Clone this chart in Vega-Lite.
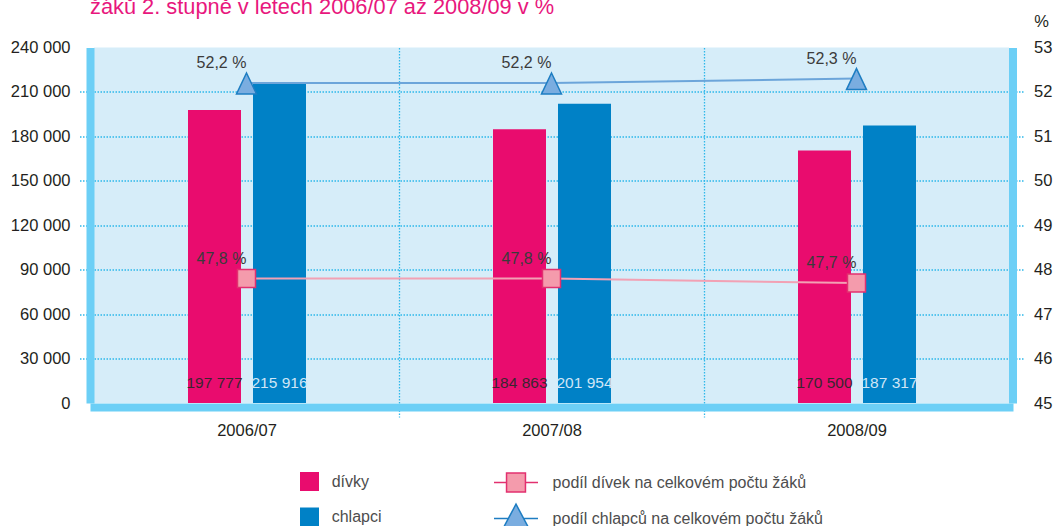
{
  "$schema": "https://vega.github.io/schema/vega-lite/v6.json",
  "width": 915,
  "height": 355.5,
  "autosize": {"type": "none"},
  "padding": {"left": 94, "top": 47.5, "right": 45, "bottom": 123},
  "background": "white",
  "title": {
    "text": "žáků 2. stupně v letech 2006/07 až 2008/09 v %",
    "anchor": "start",
    "frame": "group",
    "offset": 0,
    "dx": -4,
    "dy": 23,
    "font": "Liberation Sans",
    "fontSize": 21.8,
    "fontWeight": "normal",
    "color": "#E8177D",
    "baseline": "alphabetic"
  },
  "datasets": {
    "pocty": [
      {"rok": "2006/07", "pohlavi": "dívky", "pocet": 197777},
      {"rok": "2006/07", "pohlavi": "chlapci", "pocet": 215916},
      {"rok": "2007/08", "pohlavi": "dívky", "pocet": 184863},
      {"rok": "2007/08", "pohlavi": "chlapci", "pocet": 201954},
      {"rok": "2008/09", "pohlavi": "dívky", "pocet": 170500},
      {"rok": "2008/09", "pohlavi": "chlapci", "pocet": 187317}
    ],
    "podily": [
      {"rok": "2006/07", "serie": "podíl dívek na celkovém počtu žáků", "podil": 47.8},
      {"rok": "2007/08", "serie": "podíl dívek na celkovém počtu žáků", "podil": 47.8},
      {"rok": "2008/09", "serie": "podíl dívek na celkovém počtu žáků", "podil": 47.7},
      {"rok": "2006/07", "serie": "podíl chlapců na celkovém počtu žáků", "podil": 52.2},
      {"rok": "2007/08", "serie": "podíl chlapců na celkovém počtu žáků", "podil": 52.2},
      {"rok": "2008/09", "serie": "podíl chlapců na celkovém počtu žáků", "podil": 52.3}
    ]
  },
  "layer": [
    {
      "data": {"name": "pocty"},
      "layer": [
        {
          "mark": {"type": "bar"},
          "encoding": {
            "x": {
              "field": "rok", "type": "nominal",
              "scale": {"paddingInner": 0, "paddingOuter": 0},
              "axis": {
                "title": null,
                "labelAngle": 0,
                "offset": 4,
                "domainColor": "#6CCFF6",
                "domainWidth": 8,
                "domainCap": "square",
                "tickBand": "extent",
                "ticks": true,
                "tickSize": 10,
                "tickColor": "#2DB8EA",
                "tickDash": [1.5, 1.5],
                "tickWidth": 1.3,
                "tickOpacity": {"condition": {"test": "datum.value === '2008/09' || datum.extra", "value": 0}, "value": 1},
                "grid": true,
                "gridColor": "#2DB8EA",
                "gridDash": [1.5, 1.5],
                "gridWidth": 1.3,
                "gridOpacity": {"condition": {"test": "datum.value === '2008/09' || datum.extra", "value": 0}, "value": 1},
                "labelPadding": 5,
                "labelFontSize": 16.5,
                "labelColor": "#231F20",
                "labelFont": "Liberation Sans"
              }
            },
            "xOffset": {
              "field": "pohlavi", "type": "nominal",
              "scale": {"domain": ["dívky", "chlapci"], "range": [94, 212], "paddingInner": 0.1846, "paddingOuter": 0}
            },
            "y": {
              "field": "pocet", "type": "quantitative",
              "scale": {"domain": [0, 240000], "nice": false, "zero": true},
              "axis": {
                "title": null,
                "values": [0, 30000, 60000, 90000, 120000, 150000, 180000, 210000, 240000],
                "format": ",d",
                "offset": 4,
                "domainColor": "#6CCFF6",
                "domainWidth": 8,
                "tickSize": 11,
                "tickColor": "#2DB8EA",
                "tickDash": [1.5, 1.5],
                "tickWidth": 1.3,
                "tickOpacity": {"condition": {"test": "datum.value >= 240000 || datum.value <= 0", "value": 0}, "value": 1},
                "grid": true,
                "gridColor": "#2DB8EA",
                "gridDash": [1.5, 1.5],
                "gridWidth": 1.3,
                "gridOpacity": {"condition": {"test": "datum.value >= 240000 || datum.value <= 0", "value": 0}, "value": 1},
                "labelPadding": 9,
                "labelFontSize": 16.5,
                "labelColor": "#231F20",
                "labelFont": "Liberation Sans"
              }
            },
            "color": {
              "field": "pohlavi", "type": "nominal",
              "scale": {"domain": ["dívky", "chlapci"], "range": ["#E90C6E", "#0081C6"]},
              "legend": {
                "orient": "none",
                "legendX": 206,
                "legendY": 424.5,
                "title": null,
                "padding": 0,
                "symbolType": "square",
                "symbolSize": 361,
                "symbolStrokeWidth": 0,
                "symbolOpacity": 1,
                "labelOffset": 12.7,
                "rowPadding": 16.5,
                "labelFontSize": 16,
                "labelColor": "#4D4D4D",
                "labelFont": "Liberation Sans"
              }
            }
          }
        },
        {
          "mark": {"type": "text", "baseline": "middle", "align": "center", "dy": -20, "fontSize": 15.5, "font": "Liberation Sans"},
          "encoding": {
            "x": {"field": "rok", "type": "nominal"},
            "xOffset": {"field": "pohlavi", "type": "nominal"},
            "y": {"datum": 0, "type": "quantitative"},
            "text": {"field": "pocet", "type": "quantitative", "format": ",d"},
            "color": {"condition": {"test": "datum.pohlavi === 'dívky'", "value": "#3A2530"}, "value": "#D0E6F6"}
          }
        }
      ]
    },
    {
      "data": {"name": "podily"},
      "transform": [
        {"calculate": "replace(format(datum.podil, '.1f'), '.', ',') + ' %'", "as": "popisek"}
      ],
      "encoding": {
        "x": {"field": "rok", "type": "nominal"},
        "y": {
          "field": "podil", "type": "quantitative",
          "scale": {"domain": [45, 53], "nice": false, "zero": false},
          "axis": {
            "orient": "right",
            "title": "%",
            "titleAngle": 0,
            "titleAlign": "center",
            "titleBaseline": "middle",
            "titleX": 28.5,
            "titleY": -26.5,
            "titleFontSize": 16.5,
            "titleFontWeight": "normal",
            "titleColor": "#231F20",
            "titleFont": "Liberation Sans",
            "values": [45, 46, 47, 48, 49, 50, 51, 52, 53],
            "format": "d",
            "offset": 3.5,
            "domainColor": "#6CCFF6",
            "domainWidth": 8,
            "tickSize": 11,
            "tickColor": "#2DB8EA",
            "tickDash": [1.5, 1.5],
            "tickWidth": 1.3,
            "tickOpacity": {"condition": {"test": "datum.value >= 53 || datum.value <= 45", "value": 0}, "value": 1},
            "grid": false,
            "labelPadding": 10,
            "labelFontSize": 16.5,
            "labelColor": "#231F20",
            "labelFont": "Liberation Sans"
          }
        }
      },
      "layer": [
        {
          "mark": {"type": "line", "strokeWidth": 2},
          "encoding": {
            "detail": {"field": "serie", "type": "nominal"},
            "stroke": {"condition": {"test": "datum.serie === 'podíl dívek na celkovém počtu žáků'", "value": "#F2A1B4"}, "value": "#6CA5DA"}
          }
        },
        {
          "mark": {"type": "point", "filled": false, "opacity": 0, "strokeWidth": 1.5},
          "encoding": {
            "shape": {
              "field": "serie", "type": "nominal",
              "scale": {"domain": ["podíl dívek na celkovém počtu žáků", "podíl chlapců na celkovém počtu žáků"], "range": ["M-1,0H-0.43M0.43,0H1M-0.43,-0.43H0.43V0.43H-0.43Z", "M-1,0H-0.347M0.347,0H1M0,-0.65L0.55,0.38H-0.55Z"]},
              "legend": {
                "orient": "none",
                "legendX": 399,
                "legendY": 412,
                "title": null,
                "padding": 0,
                "symbolSize": 1936,
                "symbolStrokeWidth": 1.5,
                "symbolOpacity": 1,
                "labelOffset": 13.6,
                "labelLimit": 400,
                "rowPadding": -8.5,
                "labelFontSize": 16,
                "labelColor": "#4D4D4D",
                "labelFont": "Liberation Sans"
              }
            },
            "fill": {
              "field": "serie", "type": "nominal",
              "scale": {"domain": ["podíl dívek na celkovém počtu žáků", "podíl chlapců na celkovém počtu žáků"], "range": ["#F49BAC", "#7AADE0"]}
            },
            "stroke": {
              "field": "serie", "type": "nominal",
              "scale": {"domain": ["podíl dívek na celkovém počtu žáků", "podíl chlapců na celkovém počtu žáků"], "range": ["#E2306F", "#1E7DC2"]}
            }
          }
        },
        {
          "mark": {"type": "point", "filled": false, "opacity": 1, "strokeWidth": 1.5},
          "encoding": {
            "shape": {"condition": {"test": "datum.serie === 'podíl dívek na celkovém počtu žáků'", "value": "square"}, "value": "M0,-1L1,1.1H-1Z"},
            "fill": {"condition": {"test": "datum.serie === 'podíl dívek na celkovém počtu žáků'", "value": "#F49BAC"}, "value": "#7AADE0"},
            "stroke": {"condition": {"test": "datum.serie === 'podíl dívek na celkovém počtu žáků'", "value": "#E2306F"}, "value": "#1E7DC2"},
            "size": {"condition": {"test": "datum.serie === 'podíl dívek na celkovém počtu žáků'", "value": 324}, "value": 400}
          }
        },
        {
          "mark": {"type": "text", "align": "center", "baseline": "middle", "dx": -25, "dy": -20, "fontSize": 16, "color": "#3B3B3B", "font": "Liberation Sans"},
          "encoding": {
            "text": {"field": "popisek", "type": "nominal"}
          }
        }
      ]
    }
  ],
  "resolve": {"scale": {"y": "independent"}},
  "config": {
    "view": {"fill": "#D6EDF9", "stroke": null},
    "locale": {"number": {"decimal": ",", "thousands": " ", "grouping": [3], "currency": ["", ""]}}
  }
}
